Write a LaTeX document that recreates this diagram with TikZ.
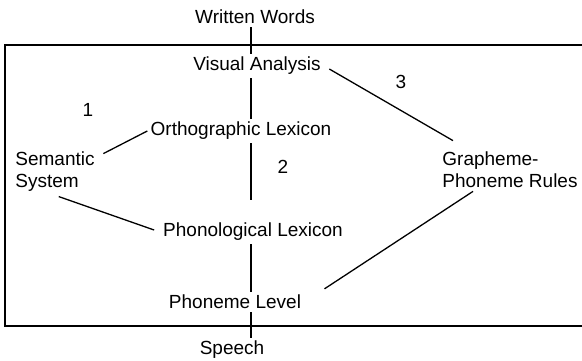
\documentclass[tikz,border=0pt]{standalone}
\usepackage{fontspec}
\setmainfont{Liberation Sans}
\usepackage{tikz}
\usetikzlibrary{calc}
\tikzset{
  lbl/.style  = {font=\fontsize{9.5}{11}\selectfont, inner sep=1.5pt,
                 align=left},
  num/.style  = {lbl},
  edg/.style  = {draw=black, line width=0.65pt},
  spn/.style  = {draw=black, line width=0.6pt},
  frm/.style  = {draw=black, line width=1pt},
}
\begin{document}
\begin{tikzpicture}[x=0.5pt,y=-0.5pt]
  \useasboundingbox (0,0) rectangle (582,360);
  \clip (0,0) rectangle (582,360);
  \draw[frm] (5,45) rectangle (600,326);

  % levels down the middle
  \coordinate (spine) at (251,0);
  \node[lbl] (ww)     at (255,17)  {Written Words};
  \node[lbl] (va)     at (257,66)  {Visual Analysis};
  \node[lbl] (ortho)  at (241,131) {Orthographic Lexicon};
  \node[lbl] (phon)   at (253,232) {Phonological Lexicon};
  \node[lbl] (phlev)  at (235,302) {Phoneme Level};
  \node[lbl] (speech) at (232,350) {Speech};

  % side systems
  \node[lbl, anchor=west] (sem) at (12,172)  {Semantic\\System};
  \node[lbl, anchor=west] (gp)  at (439,170) {Grapheme-\\Phoneme Rules};

  % route numbers
  \node[num] (n1) at (88,110)  {1};
  \node[num] (n2) at (283,167) {2};
  \node[num] (n3) at (401,82)  {3};

  \draw[spn] (ww.south -| spine) -- (va.north -| spine);
  \draw[spn] (va.south -| spine) -- (ortho.north -| spine);
  \draw[spn, shorten >=10pt] (ortho.south -| spine) -- (phon.north -| spine);
  \draw[spn] (phon.south -| spine) -- (phlev.north -| spine);
  \draw[spn] (phlev.south -| spine) -- (speech.north -| spine);

  \draw[edg, shorten <=3pt] (sem.20) -- (ortho.west);
  \draw[edg, shorten <=2pt, shorten >=3pt] (sem.south) -- (phon.west);
  \draw[edg, shorten <=3pt] (va.east) -- ([shift={(7pt,4pt)}]gp.north west);
  \draw[edg, shorten >=12pt] ([xshift=17pt]gp.south west) -- (phlev.east);
\end{tikzpicture}
\end{document}
